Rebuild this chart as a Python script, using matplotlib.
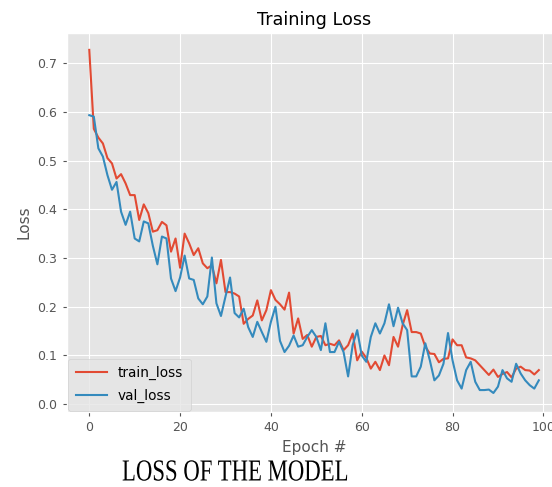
import matplotlib
matplotlib.use("Agg")
import matplotlib.pyplot as plt
import numpy as np
from matplotlib import patheffects as pe
from matplotlib.transforms import Affine2D

# ---------------- data ----------------
epochs = np.arange(100)

train_loss = [
    0.727, 0.565, 0.547, 0.535, 0.505, 0.494, 0.463, 0.472, 0.453, 0.429,
    0.429, 0.378, 0.410, 0.392, 0.354, 0.357, 0.374, 0.367, 0.313, 0.340,
    0.280, 0.350, 0.330, 0.306, 0.320, 0.289, 0.279, 0.285, 0.248, 0.296,
    0.230, 0.230, 0.227, 0.221, 0.165, 0.175, 0.182, 0.213, 0.172, 0.193,
    0.234, 0.214, 0.205, 0.194, 0.229, 0.145, 0.176, 0.134, 0.142, 0.118,
    0.138, 0.140, 0.121, 0.124, 0.121, 0.131, 0.111, 0.121, 0.145, 0.090,
    0.108, 0.095, 0.073, 0.087, 0.070, 0.100, 0.080, 0.138, 0.118, 0.162,
    0.193, 0.148, 0.148, 0.145, 0.118, 0.104, 0.103, 0.086, 0.093, 0.094,
    0.133, 0.121, 0.121, 0.096, 0.094, 0.090, 0.080, 0.070, 0.060, 0.071,
    0.056, 0.062, 0.066, 0.055, 0.073, 0.077, 0.070, 0.069, 0.061, 0.070,
]

val_loss = [
    0.593, 0.590, 0.525, 0.508, 0.470, 0.440, 0.456, 0.395, 0.368, 0.395,
    0.340, 0.334, 0.375, 0.371, 0.325, 0.287, 0.344, 0.340, 0.258, 0.232,
    0.260, 0.305, 0.258, 0.255, 0.217, 0.205, 0.221, 0.301, 0.207, 0.181,
    0.221, 0.260, 0.187, 0.178, 0.196, 0.158, 0.138, 0.169, 0.148, 0.128,
    0.169, 0.200, 0.130, 0.107, 0.120, 0.141, 0.118, 0.121, 0.138, 0.152,
    0.138, 0.111, 0.166, 0.107, 0.107, 0.128, 0.107, 0.057, 0.121, 0.152,
    0.100, 0.087, 0.138, 0.166, 0.145, 0.166, 0.205, 0.160, 0.198, 0.166,
    0.152, 0.057, 0.057, 0.077, 0.125, 0.090, 0.049, 0.059, 0.083, 0.146,
    0.090, 0.049, 0.032, 0.070, 0.087, 0.046, 0.029, 0.029, 0.030, 0.023,
    0.036, 0.070, 0.053, 0.046, 0.083, 0.063, 0.049, 0.039, 0.032, 0.049,
]

x_ticks = [0, 20, 40, 60, 80, 100]
y_ticks = [0.0, 0.1, 0.2, 0.3, 0.4, 0.5, 0.6, 0.7]

title_text = "Training Loss"
x_label = "Epoch #"
y_label = "Loss"
caption_text = "LOSS OF THE MODEL"


class HScale(pe.AbstractPathEffect):
    """Horizontally condense drawn text around an anchor x (display px)."""
    def __init__(self, sx, x0):
        super().__init__()
        self.sx = sx
        self.x0 = x0

    def draw_path(self, renderer, gc, tpath, affine, rgbFace=None):
        t = affine + Affine2D().translate(-self.x0, 0).scale(self.sx, 1.0).translate(self.x0, 0)
        renderer.draw_path(gc, tpath, t, rgbFace)


plt.style.use("ggplot")

W, H = 552, 487
fig = plt.figure(figsize=(W / 100, H / 100), dpi=100)
ax = fig.add_axes([66.8 / W, 75 / H, 494.5 / W, 378.7 / H])

ax.plot(epochs, train_loss, label="train_loss", lw=1.5)
ax.plot(epochs, val_loss, label="val_loss", lw=1.5)

ax.set_xlim(-4.95, 103.95)
ax.set_ylim(-0.016, 0.761)
ax.set_xticks(x_ticks)
ax.set_yticks(y_ticks)
ax.set_yticklabels([f"{v:.1f}" for v in y_ticks])
ax.tick_params(labelsize=9, length=3.2)

ax.set_xlabel(x_label, fontsize=11)
ax.set_ylabel(y_label, fontsize=11)
ax.set_title(title_text, fontsize=12.7)

ax.legend(loc="lower left", fontsize=9.8, borderaxespad=0.1, borderpad=0.55,
          handlelength=2.3, labelspacing=0.65)

x_left, x_right = 122, 348
cap = fig.text(x_left / W, 6.5 / H, caption_text,
               family=["Liberation Serif", "DejaVu Serif"],
               fontsize=22, color="black", ha="left", va="baseline")
fig.canvas.draw()
bb = cap.get_window_extent()
sx = (x_right - x_left) / bb.width
cap.set_path_effects([HScale(sx, bb.x0)])

fig.savefig("out.png", dpi=100)
